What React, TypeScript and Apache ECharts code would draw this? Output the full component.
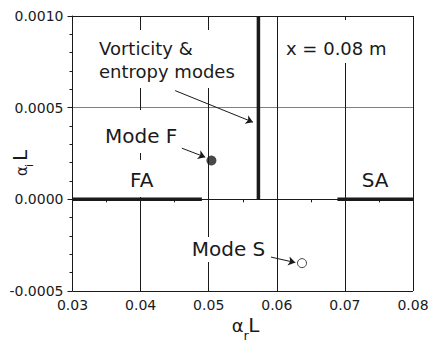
import React, { useEffect, useRef } from "react";
import * as echarts from "echarts";

const FONT = "DejaVu Sans";
const INK = "#1a1a1a";

// axis ranges / ticks
const xMin = 0.03, xMax = 0.08, xInterval = 0.01;
const yMin = -0.0005, yMax = 0.001, yInterval = 0.0005;

// thick line segments
const faSegment = [[0.03, 0], [0.049, 0]];
const saSegment = [[0.0689, 0], [0.08, 0]];
const vortEntropyLine = [[0.0573, 0], [0.0573, 0.001]];

// modes
const modeF = [[0.0504, 0.000212]];
const modeS = [[0.0637, -0.000348]];

// annotation arrows [from, to] in data coordinates
const arrowVort = [[0.04507, 0.000593], [0.0565, 0.000421]];
const arrowF = [[0.04606, 0.000279], [0.04949, 0.00023]];
const arrowS = [[0.05915, -0.000315], [0.06272, -0.000345]];

function txt(text: string, x: number, y: number, size: number, extra: any = {}) {
  return {
    type: "text",
    x,
    y,
    z: 1,
    silent: true,
    style: {
      text,
      fontFamily: FONT,
      fontSize: size,
      fill: INK,
      align: "left",
      verticalAlign: "top",
      ...extra,
    },
  };
}

export default function App() {
  const ref = useRef<HTMLDivElement>(null);
  useEffect(() => {
    const chart = echarts.init(ref.current!, null, { renderer: "svg" });
    const thick = (data: number[][], name: string) => ({
      type: "line",
      name,
      data,
      showSymbol: false,
      symbol: "none",
      lineStyle: { color: INK, width: 3.5 },
      silent: true,
      z: 3,
    });
    const arrowLine = (a: number[][]) => [
      { coord: a[0] },
      { coord: a[1] },
    ];
    const option: any = {
      animation: false,
      backgroundColor: "#fff",
      grid: { left: 72.5, right: 19, top: 16, bottom: 54, containLabel: false },
      xAxis: {
        type: "value",
        min: xMin,
        max: xMax,
        interval: xInterval,
        axisLine: { show: true, lineStyle: { color: INK, width: 1 } },
        axisTick: { show: true, length: 5, lineStyle: { color: INK } },
        minorTick: { show: true, splitNumber: 2, length: 3, lineStyle: { color: INK } },
        axisLabel: {
          margin: 7,
          fontFamily: FONT,
          fontSize: 14,
          color: INK,
          formatter: (v: number) => v.toFixed(2),
        },
        splitLine: { show: true, lineStyle: { color: INK, width: 1 } },
      },
      yAxis: {
        type: "value",
        min: yMin,
        max: yMax,
        interval: yInterval,
        axisLine: { show: true, lineStyle: { color: INK, width: 1 } },
        axisTick: { show: true, length: 5, lineStyle: { color: INK } },
        minorTick: { show: true, splitNumber: 5, length: 3, lineStyle: { color: INK } },
        axisLabel: {
          margin: 9,
          fontFamily: FONT,
          fontSize: 14,
          color: INK,
          formatter: (v: number) => v.toFixed(4),
        },
        splitLine: {
          show: true,
          lineStyle: { color: [INK, INK, "#808080", INK], width: 1 },
        },
      },
      series: [
        thick(faSegment, "FA"),
        thick(saSegment, "SA"),
        thick(vortEntropyLine, "Vorticity & entropy"),
        {
          type: "scatter",
          name: "Mode F",
          data: modeF,
          symbol: "circle",
          symbolSize: 10,
          itemStyle: { color: INK },
          z: 4,
          silent: true,
        },
        {
          type: "scatter",
          name: "Mode S",
          data: modeS,
          symbol: "circle",
          symbolSize: 9,
          itemStyle: { color: "#fff", borderColor: INK, borderWidth: 1 },
          z: 4,
          silent: true,
          markLine: {
            silent: true,
            symbol: ["none", "arrow"],
            symbolSize: 7,
            label: { show: false },
            lineStyle: { color: INK, width: 1, type: "solid" },
            data: [arrowLine(arrowVort), arrowLine(arrowF), arrowLine(arrowS)],
          },
        },
      ],
      graphic: [
        txt("Vorticity &\nentropy modes", 93, 30, 18, {
          lineHeight: 23,
          backgroundColor: "#fff",
          padding: [7, 6, 5, 6],
        }),
        txt("x = 0.08 m", 280, 20, 18, {
          lineHeight: 20,
          backgroundColor: "#fff",
          padding: [18, 6, 5, 6],
        }),
        txt("Mode F", 99, 110, 20, {
          lineHeight: 20,
          backgroundColor: "#fff",
          padding: [16, 6, 7, 6],
        }),
        txt("FA", 124, 160, 20, {
          lineHeight: 20,
          backgroundColor: "#fff",
          padding: [10, 6, 7, 6],
        }),
        txt("SA", 355.7, 160, 20, {
          lineHeight: 20,
          backgroundColor: "#fff",
          padding: [10, 6, 7, 6],
        }),
        txt("Mode S", 185.7, 237, 20, {
          lineHeight: 20,
          backgroundColor: "#fff",
          padding: [2, 6, 3, 6],
        }),
        // x axis title: alpha_r L
        txt("α", 231.7, 325.5, 18, { verticalAlign: "middle" }),
        txt("r", 243.5, 335.5, 13, { verticalAlign: "middle" }),
        txt("L", 248.3, 324.8, 20, { verticalAlign: "middle" }),
        // y axis title: alpha_i L (rotated)
        {
          type: "group",
          x: 27,
          y: 177,
          rotation: Math.PI / 2,
          silent: true,
          children: [
            { type: "text", x: 1, y: -5.2, style: { text: "α", fontFamily: FONT, fontSize: 15, fill: INK, align: "left", verticalAlign: "middle" } },
            { type: "text", x: 10, y: 2.2, style: { text: "i", fontFamily: FONT, fontSize: 11, fill: INK, align: "left", verticalAlign: "middle" } },
            { type: "text", x: 16, y: -6.9, style: { text: "L", fontFamily: FONT, fontSize: 20, fill: INK, align: "left", verticalAlign: "middle" } },
          ],
        },
      ],
    };
    chart.setOption(option);
    return () => chart.dispose();
  }, []);
  return (
    <div
      ref={ref}
      style={{ position: "absolute", left: 0, top: 0, width: 432, height: 345 }}
    />
  );
}
